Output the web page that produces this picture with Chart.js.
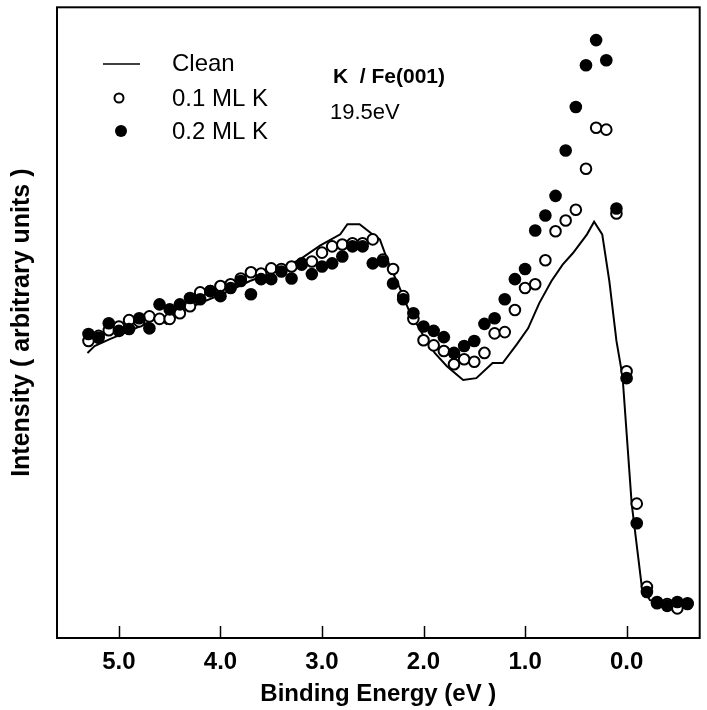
<!DOCTYPE html>
<html>
<head>
<meta charset="utf-8">
<script src="https://cdn.jsdelivr.net/npm/chart.js@4.4.1/dist/chart.umd.min.js"></script>
<style>
  html, body { margin: 0; padding: 0; background: #fff; }
  #wrap { width: 707px; height: 710px; position: relative; }
</style>
</head>
<body>
<div id="wrap"><canvas id="c" width="707" height="710"></canvas></div>
<script>
// ---- data (binding energy in eV, intensity in arbitrary units) ----
const energies = [5.3,5.2,5.1,5.0,4.9,4.8,4.7,4.6,4.5,4.4,
                  4.3,4.2,4.1,4.0,3.9,3.8,3.7,3.6,3.5,3.4,
                  3.3,3.2,3.1,3.0,2.9,2.8,2.7,2.6,2.5,2.4,
                  2.3,2.2,2.1,2.0,1.9,1.8,1.7,1.6,1.5,1.4,
                  1.3,1.2,1.1,1.0,0.9,0.8,0.7,0.6,0.5,0.4,
                  0.3,0.2,0.1,0.0,-0.1,-0.2,-0.3,-0.4,-0.5,-0.6];
const k01 = [47.1,47.9,48.8,49.4,50.4,50.2,51.0,50.6,50.6,51.5,
             52.6,54.8,55.0,55.8,56.1,57.0,58.0,57.8,58.6,58.5,
             58.9,59.4,59.7,61.1,62.1,62.4,62.6,62.6,63.2,60.0,
             58.5,54.2,50.6,47.2,46.4,45.5,43.4,44.2,43.8,45.2,
             48.3,48.5,52.0,55.5,56.1,59.9,64.5,66.2,67.9,74.4,
             80.9,80.6,67.3,42.3,21.3,8.1,5.7,5.4,4.7,5.4];
const k02 = [48.2,47.6,49.9,48.7,49.0,50.7,49.1,52.9,52.1,52.9,
             53.9,53.7,55.0,54.2,55.5,56.6,54.5,56.9,56.9,58.1,
             57.0,59.2,57.7,58.9,59.4,60.5,62.1,62.1,59.4,59.7,
             56.2,53.7,51.5,49.4,48.7,47.7,45.2,46.3,47.1,49.8,
             50.7,53.7,56.9,58.5,64.6,67.0,70.1,77.3,84.2,90.8,
             94.8,91.6,68.1,41.2,18.2,7.3,5.5,5.1,5.7,5.5];
const cleanEnergies = [5.31,5.24,5.09,4.89,4.69,4.62,4.53,4.45,4.20,3.96,3.71,3.46,3.22,3.02,2.82,2.75,2.63,2.51,2.43,2.38,2.33,2.25,2.14,2.01,1.89,1.77,1.61,1.48,1.32,1.22,1.08,0.97,0.86,0.74,0.63,0.53,0.39,0.32,0.24,0.17,0.10,0.04,-0.05,-0.15,-0.23,-0.37,-0.62];
const cleanVals = [45.2,46.3,47.4,48.7,50.2,50.7,49.8,51.3,53.1,54.7,56.6,58.1,60.0,62.2,64.0,65.6,65.6,64.1,63.2,61.0,58.9,56.1,51.8,48.2,45.2,43.1,40.9,41.2,43.6,43.6,46.6,49.1,53.1,56.6,59.2,61.0,64.0,66.0,64.0,56.6,47.1,41.5,21.3,8.1,6.0,5.5,5.5];
const xTickValues = [5, 4, 3, 2, 1, 0];
const seriesLabels = ['Clean', '0.1 ML K', '0.2 ML K'];
const titleText = 'K  / Fe(001)';
const subtitleText = '19.5eV';
const xTitle = 'Binding Energy (eV )';
const yTitle = 'Intensity ( arbitrary units )';

const FONT = '"Liberation Sans", Arial, Helvetica, sans-serif';

function pts(xs, ys) { return xs.map((x, i) => ({ x: x, y: ys[i] })); }

const framePlugin = {
  id: 'frame',
  afterDraw(chart) {
    const ctx = chart.ctx;
    const a = chart.chartArea;
    const xs = chart.scales.x;
    ctx.save();
    ctx.strokeStyle = '#000';
    ctx.lineWidth = 2;
    ctx.strokeRect(a.left, a.top, a.right - a.left, a.bottom - a.top);
    // inward tick marks
    ctx.lineWidth = 1.5;
    xTickValues.forEach(v => {
      const px = Math.round(xs.getPixelForValue(v)) + 0.5;
      ctx.beginPath();
      ctx.moveTo(px, a.bottom);
      ctx.lineTo(px, a.bottom - 12);
      ctx.stroke();
    });
    // legend
    const ds = chart.data.datasets;
    const lx = 103, tx = 172;
    const rows = [64, 99, 132];
    ctx.fillStyle = '#000';
    ctx.textBaseline = 'middle';
    ctx.textAlign = 'left';
    ctx.font = '24px ' + FONT;
    // clean
    ctx.lineWidth = 1.5;
    ctx.beginPath(); ctx.moveTo(lx, rows[0]); ctx.lineTo(lx + 37, rows[0]); ctx.stroke();
    ctx.fillText(ds[0].label, tx, rows[0]);
    // open
    ctx.lineWidth = 2;
    ctx.beginPath(); ctx.arc(119, rows[1] - 1, 4.5, 0, Math.PI * 2);
    ctx.fillStyle = '#fff'; ctx.fill(); ctx.stroke();
    ctx.fillStyle = '#000';
    ctx.fillText(ds[1].label, tx, rows[1]);
    // filled
    ctx.beginPath(); ctx.arc(121, rows[2] - 1, 6, 0, Math.PI * 2); ctx.fill();
    ctx.fillText(ds[2].label, tx, rows[2]);
    // annotation
    ctx.font = 'bold 21px ' + FONT;
    ctx.fillText(titleText, 333, 77);
    ctx.font = '22px ' + FONT;
    ctx.fillText(subtitleText, 330, 113);
    ctx.restore();
  }
};

new Chart(document.getElementById('c'), {
  type: 'scatter',
  data: {
    datasets: [
      {
        label: seriesLabels[0],
        data: pts(cleanEnergies, cleanVals),
        showLine: true,
        borderColor: '#000',
        borderWidth: 2,
        pointRadius: 0,
        tension: 0,
        order: 3
      },
      {
        label: seriesLabels[1],
        data: pts(energies, k01),
        showLine: false,
        pointRadius: 5.3,
        pointBorderWidth: 2,
        pointBackgroundColor: '#fff',
        pointBorderColor: '#000',
        order: 2
      },
      {
        label: seriesLabels[2],
        data: pts(energies, k02),
        showLine: false,
        pointRadius: 6.3,
        pointBorderWidth: 0,
        pointBackgroundColor: '#000',
        pointBorderColor: '#000',
        order: 1
      }
    ]
  },
  options: {
    responsive: false,
    animation: false,
    devicePixelRatio: 1,
    layout: { padding: { top: 5, right: 7, left: 0, bottom: 0 } },
    plugins: { legend: { display: false }, tooltip: { enabled: false } },
    scales: {
      x: {
        type: 'linear',
        reverse: true,
        min: -0.72,
        max: 5.61,
        afterBuildTicks: (s) => { s.ticks = xTickValues.map(v => ({ value: v })); },
        afterFit: (s) => { s.height = 72; },
        grid: { display: false, drawTicks: false },
        border: { display: false },
        ticks: {
          color: '#000',
          padding: 10,
          maxRotation: 0,
          font: { family: FONT, size: 24, weight: 'bold' },
          callback: (v) => Number(v).toFixed(1)
        },
        title: {
          display: true,
          text: xTitle,
          color: '#000',
          font: { family: FONT, size: 24, weight: 'bold' },
          padding: { top: 0, bottom: 1 }
        }
      },
      y: {
        min: 0,
        max: 100,
        afterFit: (s) => { s.width = 57; },
        grid: { display: false, drawTicks: false },
        border: { display: false },
        ticks: { display: false },
        title: {
          display: true,
          text: yTitle,
          color: '#000',
          font: { family: FONT, size: 25, weight: 'bold' },
          padding: { top: 7, bottom: 0 }
        }
      }
    }
  },
  plugins: [framePlugin]
});
</script>
</body>
</html>
